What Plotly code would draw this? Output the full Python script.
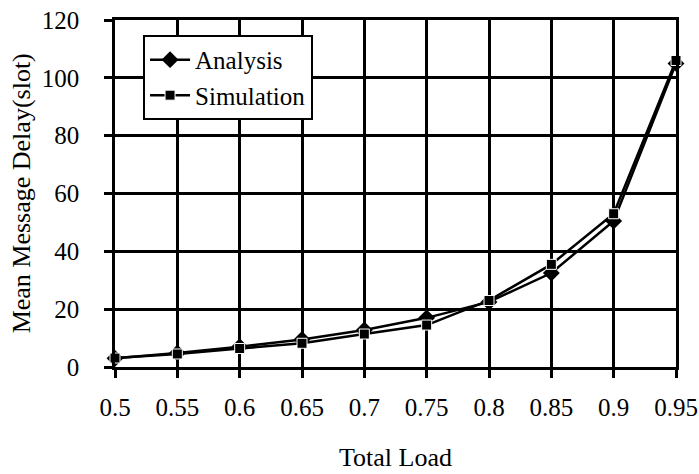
import plotly.graph_objects as go

load = [0.5, 0.55, 0.6, 0.65, 0.7, 0.75, 0.8, 0.85, 0.9, 0.95]
tick_labels = ["0.5", "0.55", "0.6", "0.65", "0.7", "0.75", "0.8", "0.85", "0.9", "0.95"]
analysis = [3.0, 4.8, 7.0, 9.5, 12.8, 17.0, 22.5, 32.5, 50.5, 105.0]
simulation = [3.1, 4.5, 6.4, 8.2, 11.4, 14.5, 23.0, 35.5, 53.0, 106.0]
y_ticks = [0, 20, 40, 60, 80, 100, 120]

font_family = "Liberation Serif"

fig = go.Figure()
fig.add_trace(go.Scatter(
    x=load, y=analysis, name="Analysis", mode="lines+markers",
    line=dict(color="black", width=2.5),
    marker=dict(symbol="diamond", size=13, color="black"),
    cliponaxis=False,
))
fig.add_trace(go.Scatter(
    x=load, y=simulation, name="Simulation", mode="lines+markers",
    line=dict(color="black", width=2.5),
    marker=dict(symbol="square", size=10, color="black", line=dict(color="white", width=1)),
    cliponaxis=False,
))

fig.update_layout(
    width=699, height=474,
    margin=dict(l=115, r=23, t=20, b=107, autoexpand=False),
    paper_bgcolor="white", plot_bgcolor="white",
    font=dict(family=font_family, size=25, color="black"),
    showlegend=True,
    legend=dict(
        x=0.05, y=0.957, xanchor="left", yanchor="top",
        bgcolor="white", bordercolor="black", borderwidth=2,
        font=dict(family=font_family, size=25, color="black"),
        itemwidth=40, tracegroupgap=0,
    ),
    annotations=[
        dict(text="Total Load", xref="paper", yref="paper", x=0.5, y=-0.26,
             xanchor="center", yanchor="middle", showarrow=False,
             font=dict(family=font_family, size=26, color="black")),
        dict(text="Mean Message Delay(slot)", xref="paper", yref="paper", x=-0.166, y=0.5,
             xanchor="center", yanchor="middle", showarrow=False, textangle=-90,
             font=dict(family=font_family, size=26, color="black")),
    ],
)
fig.update_xaxes(
    range=[0.5, 0.95], tickvals=load, ticktext=tick_labels,
    showgrid=True, gridcolor="black", gridwidth=2.5,
    showline=True, linecolor="black", linewidth=2.5, mirror=True,
    ticks="outside", ticklen=8, tickwidth=2.5, tickcolor="black",
    zeroline=False, automargin=False, ticklabelstandoff=8,
    ticklabeloverflow="allow",
    tickfont=dict(family=font_family, size=25, color="black"),
)
fig.update_yaxes(
    range=[0, 120], tickvals=y_ticks,
    showgrid=True, gridcolor="black", gridwidth=2.5,
    showline=True, linecolor="black", linewidth=2.5, mirror=True,
    ticks="outside", ticklen=8, tickwidth=2.5, tickcolor="black",
    zeroline=False, automargin=False, ticklabelstandoff=20,
    ticklabeloverflow="allow",
    tickfont=dict(family=font_family, size=25, color="black"),
)

fig.write_html(
    "out.html",
    config={"displayModeBar": False},
    post_script="document.body.style.margin='0';document.body.style.overflow='hidden';",
)
